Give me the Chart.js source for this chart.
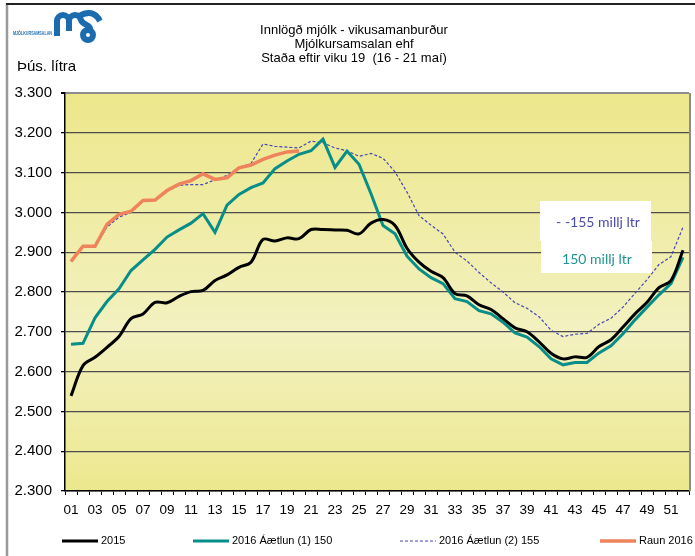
<!DOCTYPE html>
<html>
<head>
<meta charset="utf-8">
<script src="https://cdn.jsdelivr.net/npm/chart.js@4/dist/chart.umd.min.js"></script>
<style>
html,body{margin:0;padding:0;background:#fff;}
#c{display:block;}
</style>
</head>
<body>
<canvas id="c" width="695" height="556" style="width:695px;height:556px"></canvas>
<script>
// ---- Data (þús. lítra) ----
const weeks = ['01','02','03','04','05','06','07','08','09','10','11','12','13','14','15','16','17','18','19','20','21','22','23','24','25','26','27','28','29','30','31','32','33','34','35','36','37','38','39','40','41','42','43','44','45','46','47','48','49','50','51','52'];
const s2015 = [2539,2615,2636,2661,2688,2733,2745,2774,2773,2789,2801,2804,2829,2843,2862,2875,2932,2928,2936,2934,2957,2957,2956,2955,2946,2973,2982,2967,2910,2875,2852,2836,2796,2790,2768,2756,2733,2710,2700,2675,2646,2632,2637,2636,2663,2680,2712,2745,2774,2811,2829,2905];
const plan1 = [2669,2671,2735,2776,2808,2854,2881,2907,2938,2956,2973,2997,2950,3018,3045,3062,3074,3110,3129,3146,3155,3184,3113,3154,3121,3047,2967,2946,2890,2858,2836,2821,2783,2776,2753,2745,2724,2697,2687,2663,2632,2617,2623,2623,2647,2665,2695,2730,2762,2793,2821,2887];
const plan2 = [2877,2912,2914,2963,2988,3000,3028,3030,3053,3068,3070,3070,3082,3093,3113,3123,3172,3166,3164,3162,3179,3175,3162,3155,3141,3148,3136,3102,3051,2992,2968,2946,2900,2878,2849,2823,2800,2773,2759,2738,2704,2688,2694,2696,2719,2734,2762,2797,2831,2869,2889,2963];
const raun2016 = [2877,2915,2915,2970,2995,3003,3030,3031,3055,3071,3080,3097,3083,3087,3112,3119,3133,3144,3152,3154];
const seriesNames = ['2015','2016 Áætlun (1) 150','2016 Áætlun (2) 155','Raun 2016'];
const yTicks = [2300,2400,2500,2600,2700,2800,2900,3000,3100,3200,3300];
const titleLines = ['Innlögð mjólk - vikusamanburður','Mjólkursamsalan ehf','Staða eftir viku 19  (16 - 21 maí)'];
const unitLabel = 'Þús. lítra';
const notes = ['- -155 millj ltr','150 millj ltr'];

const fmt = v => (v/1000).toFixed(3);
const SANS = "'Liberation Sans', Arial, sans-serif";

const deco = {
  id:'deco',
  beforeDraw(chart){
    const ctx = chart.ctx, a = chart.chartArea;
    ctx.save();
    ctx.fillStyle = '#fff';
    ctx.fillRect(0,0,chart.width,chart.height);
    const g = ctx.createLinearGradient(0,a.top,0,a.bottom);
    g.addColorStop(0,'#ECE78A');
    g.addColorStop(0.6,'#F3F1C0');
    g.addColorStop(1,'#ECE88E');
    ctx.fillStyle = g;
    ctx.fillRect(a.left,a.top,a.right-a.left,a.bottom-a.top);
    // frame
    ctx.strokeStyle = '#9a9a9a'; ctx.lineWidth = 2.5;
    ctx.beginPath(); ctx.moveTo(7,3); ctx.lineTo(7,556); ctx.stroke();
    ctx.strokeStyle = '#222'; ctx.lineWidth = 2;
    ctx.beginPath(); ctx.moveTo(6,4); ctx.lineTo(695,4); ctx.stroke();
    // titles
    ctx.fillStyle = '#000'; ctx.textAlign = 'center'; ctx.textBaseline = 'middle';
    ctx.font = '13px ' + SANS;
    titleLines.forEach((t,i)=>ctx.fillText(t,354,30+i*14));
    ctx.textAlign = 'left';
    ctx.font = '15px ' + SANS;
    ctx.fillText(unitLabel,17,67);
    // logo
    ctx.fillStyle = '#1b6caf';
    ctx.font = 'bold 6px ' + SANS;
    ctx.fillText('MJÓLKURSAMSALAN',13,33,39);
    ctx.strokeStyle = '#1b6caf'; ctx.lineWidth = 6; ctx.lineCap = 'butt';
    ctx.beginPath();
    ctx.moveTo(57,36); ctx.lineTo(57,22);
    ctx.arc(63,21,6,Math.PI,0);
    ctx.lineTo(69,31);
    ctx.moveTo(69,21);
    ctx.arc(75,21,6,Math.PI,-0.2);
    ctx.bezierCurveTo(83,26,91,24,90,30);
    ctx.stroke();
    ctx.beginPath();
    ctx.moveTo(79,16); ctx.quadraticCurveTo(93,8,100,21);
    ctx.stroke();
    ctx.beginPath(); ctx.arc(88,35,5,0,Math.PI*2); ctx.stroke();
    ctx.restore();
  },
  afterDatasetsDraw(chart){
    const ctx = chart.ctx, a = chart.chartArea;
    ctx.save();
    // right plot border
    ctx.strokeStyle = '#8c8c8c'; ctx.lineWidth = 2;
    ctx.beginPath(); ctx.moveTo(a.right+1,a.top); ctx.lineTo(a.right+1,a.bottom); ctx.stroke();
    // annotation boxes
    ctx.fillStyle = '#fff';
    ctx.fillRect(540,201,111,40);
    ctx.fillRect(541,241,111,32);
    ctx.textAlign = 'center'; ctx.textBaseline = 'middle';
    ctx.font = "14px Lato, 'Open Sans', sans-serif";
    ctx.fillStyle = '#4b4ba8'; ctx.fillText(notes[0],598,222);
    ctx.fillStyle = '#1f9591'; ctx.fillText(notes[1],597,259);
    // legend
    const lx = [62,193,400,600];
    const ly = 541;
    ctx.textAlign = 'left';
    ctx.font = '11px ' + SANS;
    chart.data.datasets.forEach((ds,i)=>{
      ctx.strokeStyle = ds.borderColor;
      ctx.lineWidth = ds.borderWidth;
      ctx.setLineDash(ds.borderDash || []);
      ctx.beginPath(); ctx.moveTo(lx[i],ly); ctx.lineTo(lx[i]+36,ly); ctx.stroke();
      ctx.setLineDash([]);
      ctx.fillStyle = '#000';
      ctx.fillText(ds.label,lx[i]+39,ly);
    });
    ctx.restore();
  }
};

new Chart(document.getElementById('c'),{
  type:'line',
  data:{
    labels: weeks,
    datasets:[
      {label:seriesNames[0], data:s2015, borderColor:'#000000', borderWidth:3, tension:0.35, order:1},
      {label:seriesNames[1], data:plan1, borderColor:'#078e89', borderWidth:3, tension:0, order:2},
      {label:seriesNames[2], data:plan2, borderColor:'#4646b4', borderWidth:1.2, borderDash:[3,2], tension:0, order:3},
      {label:seriesNames[3], data:raun2016, borderColor:'#ef845c', borderWidth:3.5, tension:0, order:0}
    ]
  },
  options:{
    responsive:false, animation:false, devicePixelRatio:1,
    layout:{padding:{left:0,right:6,top:93,bottom:35}},
    elements:{point:{radius:0}},
    plugins:{legend:{display:false},title:{display:false},tooltip:{enabled:false}},
    scales:{
      x:{
        type:'category', offset:true,
        grid:{display:true, drawOnChartArea:false, drawTicks:true, tickLength:4, color:'#000', offset:true},
        border:{display:true, color:'#000', width:1.5},
        ticks:{autoSkip:false, maxRotation:0, minRotation:0, padding:7, color:'#000',
          font:{family:SANS, size:13.5},
          callback:(v,i)=> i%2===0 ? weeks[i] : ''},
        afterFit:s=>{s.height=30;}
      },
      y:{
        min:yTicks[0], max:yTicks[yTicks.length-1],
        afterBuildTicks:s=>{s.ticks = yTicks.map(v=>({value:v}));},
        ticks:{padding:9, color:'#000', font:{family:SANS, size:15}, callback:v=>fmt(v)},
        grid:{color:c=> (c.tick && c.tick.value===3300) ? '#8c8c8c' : '#4d4d4d',
              lineWidth:c=> (c.tick && c.tick.value===3300) ? 2 : 1.3,
              tickLength:4, tickColor:'#000'},
        border:{display:true, color:'#000', width:1.5},
        afterFit:s=>{s.width=65;}
      }
    }
  },
  plugins:[deco]
});
</script>
</body>
</html>
